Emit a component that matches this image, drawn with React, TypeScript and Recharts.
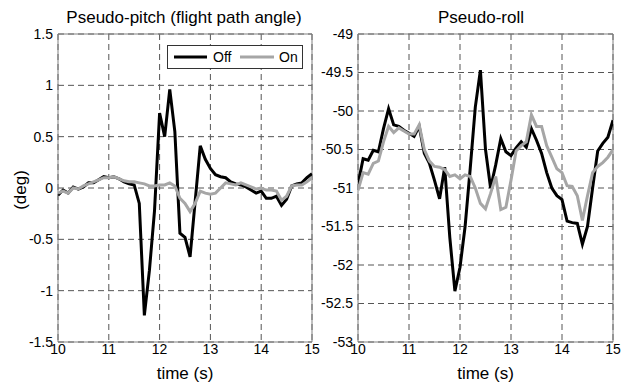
import React from 'react';
import { LineChart, Line, XAxis, YAxis, CartesianGrid, ReferenceArea } from 'recharts';

// sample times (s), 0.1 s apart
const timeS = [
  10.0, 10.1, 10.2, 10.3, 10.4, 10.5, 10.6, 10.7, 10.8, 10.9,
  11.0, 11.1, 11.2, 11.3, 11.4, 11.5, 11.6, 11.7, 11.8, 11.9,
  12.0, 12.1, 12.2, 12.3, 12.4, 12.5, 12.6, 12.7, 12.8, 12.9,
  13.0, 13.1, 13.2, 13.3, 13.4, 13.5, 13.6, 13.7, 13.8, 13.9,
  14.0, 14.1, 14.2, 14.3, 14.4, 14.5, 14.6, 14.7, 14.8, 14.9,
  15.0,
];

const pitchOff = [
  -0.07, -0.02, -0.05, 0.01, -0.01, 0.01, 0.05, 0.05, 0.08, 0.11,
  0.10, 0.11, 0.09, 0.06, 0.04, 0.03, -0.15, -1.24, -0.80, -0.22,
  0.73, 0.50, 0.96, 0.55, -0.44, -0.48, -0.67, -0.13, 0.41, 0.28,
  0.19, 0.13, 0.11, 0.10, 0.06, 0.04, 0.03, 0.01, -0.02, -0.05,
  -0.03, -0.10, -0.10, -0.08, -0.17, -0.11, 0.02, 0.04, 0.05, 0.10,
  0.14,
];

const pitchOn = [
  -0.05, -0.03, -0.05, 0.0, -0.01, 0.02, 0.04, 0.06, 0.08, 0.10,
  0.10, 0.11, 0.09, 0.07, 0.06, 0.06, 0.05, 0.04, 0.02, 0.02,
  0.03, 0.03, 0.05, 0.02, -0.10, -0.15, -0.23, -0.15, -0.03, -0.05,
  -0.06, -0.05, 0.0, 0.05, 0.04, 0.03, 0.05, 0.03, 0.01, -0.01,
  0.0, -0.02, -0.02, -0.03, -0.12, -0.08, 0.02, 0.03, 0.03, 0.06,
  0.10,
];

const rollOff = [
  -50.95, -50.62, -50.64, -50.51, -50.53, -50.23, -49.97, -50.18, -50.2, -50.25,
  -50.29, -50.33, -50.2, -50.55, -50.68, -50.9, -51.14, -50.73, -51.64, -52.34,
  -52.03, -51.5, -50.75, -49.95, -49.47, -50.5, -51.0, -50.7, -50.36, -50.53,
  -50.58, -50.48, -50.4, -50.47, -50.23, -50.38, -50.55, -50.8, -51.0, -51.1,
  -51.15, -51.43, -51.45, -51.46, -51.73, -51.5, -51.0, -50.52, -50.42, -50.34,
  -50.12,
];

const rollOn = [
  -51.03, -50.8, -50.82, -50.68, -50.65, -50.4, -50.2, -50.28, -50.22, -50.26,
  -50.3, -50.3, -50.18, -50.5, -50.65, -50.72, -50.73, -50.76, -50.85, -50.83,
  -50.88, -50.83, -50.85, -51.0, -51.2, -51.27, -51.07, -50.85, -51.28, -51.25,
  -50.9, -50.52, -50.45, -50.4, -50.05, -50.2, -50.2, -50.45, -50.6, -50.75,
  -50.8, -50.97, -50.98, -51.1, -51.42, -51.1, -50.8, -50.72, -50.67, -50.6,
  -50.5,
];

const timeTicks = [10, 11, 12, 13, 14, 15];
const pitchTicks = [-1.5, -1, -0.5, 0, 0.5, 1, 1.5];
const rollTicks = [-53, -52.5, -52, -51.5, -51, -50.5, -50, -49.5, -49];

const FONT = '"Liberation Sans", Arial, Helvetica, sans-serif';
const tickStyle = { fontSize: 14, fill: '#000', fontFamily: FONT };

const pitchData = timeS.map((t, i) => ({ t, off: pitchOff[i], on: pitchOn[i] }));
const rollData = timeS.map((t, i) => ({ t, off: rollOff[i], on: rollOn[i] }));

type PanelProps = {
  data: { t: number; off: number; on: number }[];
  yTicks: number[];
  width: number;
  right: number;
};

const Panel: React.FC<PanelProps> = ({ data, yTicks, width, right }) => {
  const yMin = yTicks[0];
  const yMax = yTicks[yTicks.length - 1];
  return (
    <LineChart width={width} height={383} data={data} margin={{ top: 34, right, bottom: 0, left: 0 }}>
      <CartesianGrid stroke="#555" strokeDasharray="6 4" strokeWidth={1} />
      <XAxis
        type="number"
        dataKey="t"
        domain={[10, 15]}
        ticks={timeTicks}
        allowDataOverflow
        height={41}
        axisLine={false}
        tickLine={false}
        tickSize={0}
        tickMargin={2}
        tick={tickStyle}
        interval={0}
        label={{ value: 'time (s)', position: 'insideBottom', offset: 4, style: { fontSize: 17, fill: '#000', fontFamily: FONT } }}
      />
      <YAxis
        type="number"
        domain={[yMin, yMax]}
        ticks={yTicks}
        allowDataOverflow
        width={58}
        axisLine={false}
        tickLine={false}
        tickSize={0}
        tickMargin={5}
        tick={tickStyle}
        interval={0}
      />
      <ReferenceArea x1={10} x2={15} y1={yMin} y2={yMax} fill="none" stroke="#808080" strokeWidth={1} />
      <Line type="linear" dataKey="off" stroke="#000" strokeWidth={3} dot={false} isAnimationActive={false} />
      <Line type="linear" dataKey="on" stroke="#a6a6a6" strokeWidth={3} dot={false} isAnimationActive={false} />
    </LineChart>
  );
};

export default function App() {
  return (
    <div style={{ position: 'absolute', left: 0, top: 0, width: 633, height: 383, background: '#fff', fontFamily: FONT }}>
      <div style={{ position: 'absolute', left: 0, top: 0 }}>
        <Panel data={pitchData} yTicks={pitchTicks} width={320} right={8} />
      </div>
      <div style={{ position: 'absolute', left: 300, top: 0 }}>
        <Panel data={rollData} yTicks={rollTicks} width={333} right={20} />
      </div>
      <svg width={633} height={383} style={{ position: 'absolute', left: 0, top: 0, pointerEvents: 'none' }}>
        <g fontFamily={FONT} fill="#000">
          <text x={184} y={23} fontSize={17} textAnchor="middle">Pseudo-pitch (flight path angle)</text>
          <text x={481} y={23} fontSize={17} textAnchor="middle">Pseudo-roll</text>
          <text x={26} y={190} fontSize={17} textAnchor="middle" transform="rotate(-90 26 190)">(deg)</text>
        </g>
        <rect x={167.5} y={45.5} width={135} height={23} fill="#fff" stroke="#333" strokeWidth={1} />
        <line x1={174} y1={57} x2={207} y2={57} stroke="#000" strokeWidth={3} />
        <text x={213} y={62} fontSize={14} fontFamily={FONT} fill="#000">Off</text>
        <line x1={240} y1={57} x2={274} y2={57} stroke="#a6a6a6" strokeWidth={3} />
        <text x={279} y={62} fontSize={14} fontFamily={FONT} fill="#000">On</text>
      </svg>
    </div>
  );
}
